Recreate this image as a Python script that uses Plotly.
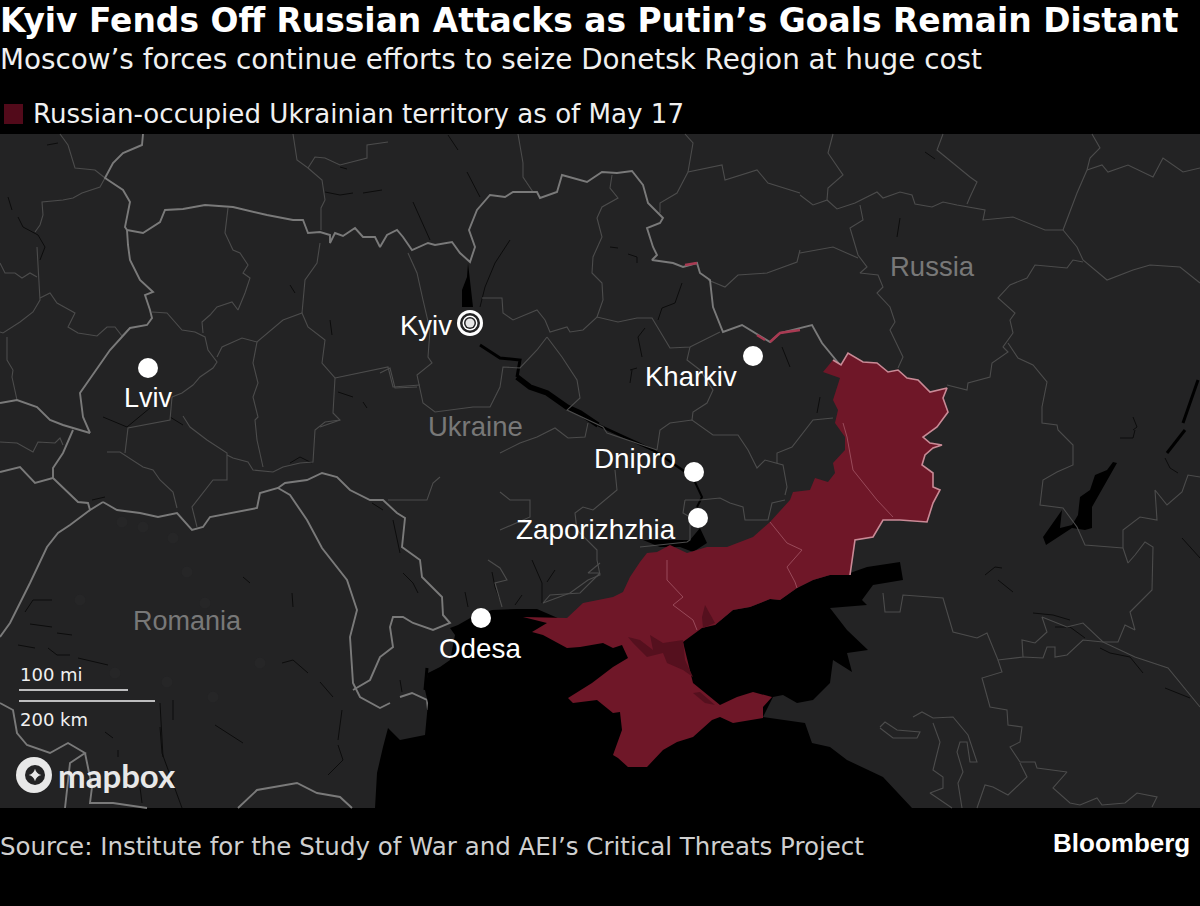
import plotly.graph_objects as go

land_area = [(0, 134), (1200, 134), (1200, 808), (0, 808)]

black_sea_azov = [
    (375, 808), (377, 773), (383, 747), (388, 728), (400, 740), (425, 735), (428, 703), (425, 690),
    (428, 673), (440, 667), (450, 660), (455, 635), (450, 628), (458, 625), (472, 617), (492, 610),
    (517, 609), (537, 609), (560, 619), (567, 618), (620, 625), (700, 625), (715, 625), (733, 610),
    (750, 607), (770, 599), (780, 600), (797, 588), (813, 580), (830, 575), (850, 573), (867, 567),
    (900, 562), (903, 580), (873, 585), (862, 600), (867, 605), (830, 608), (847, 630), (868, 650),
    (847, 653), (852, 672), (833, 660), (830, 683), (813, 700), (797, 703), (783, 695), (773, 697),
    (763, 717), (805, 723), (812, 743), (830, 747), (847, 760), (883, 777), (912, 808),
]
zaporizhzhia_reservoir = [
    (700, 528), (707, 543), (693, 552), (680, 547), (660, 547), (643, 540), (690, 540),
]
kyiv_reservoir = [(468, 263), (473, 307), (462, 307), (462, 290), (467, 277)]
don_reservoir = [
    (1113, 462), (1107, 470), (1095, 475), (1090, 490), (1080, 497), (1078, 515), (1072, 525),
    (1060, 528), (1062, 510), (1043, 537), (1046, 545), (1072, 528), (1085, 530), (1092, 528),
    (1092, 507), (1108, 478), (1117, 463),
]

occupied_area = [
    (567, 618), (583, 603), (613, 597), (623, 592), (630, 577), (640, 562), (647, 553), (657, 552),
    (670, 545), (687, 553), (707, 547), (727, 547), (753, 537), (770, 522), (790, 500), (793, 492),
    (810, 490), (815, 478), (828, 482), (835, 473), (833, 463), (845, 450), (845, 437), (835, 423),
    (838, 410), (833, 400), (840, 378), (823, 372), (833, 360), (841, 365), (848, 353), (863, 362),
    (877, 363), (888, 372), (898, 370), (907, 378), (918, 380), (930, 392), (947, 388), (943, 398),
    (948, 412), (937, 427), (923, 437), (930, 443), (942, 445), (933, 448), (925, 455), (922, 465),
    (933, 473), (933, 487), (940, 490), (933, 503), (927, 522), (900, 520), (883, 520), (873, 537),
    (855, 540), (852, 560), (850, 575), (830, 575), (813, 580), (797, 588), (780, 600), (770, 599),
    (750, 607), (733, 610), (715, 625), (702, 628), (683, 642), (693, 683), (720, 705), (737, 697),
    (753, 692), (772, 697), (763, 707), (763, 718), (733, 723), (720, 717), (712, 720), (693, 737),
    (677, 742), (663, 750), (647, 767), (628, 767), (618, 758), (613, 755), (622, 730), (620, 712),
    (613, 713), (597, 700), (573, 703), (568, 698), (592, 683), (613, 667), (628, 658), (622, 645),
    (613, 648), (603, 643), (580, 647), (567, 648), (543, 635), (532, 632), (547, 623), (523, 617),
]
occupied_edge = occupied_area[28:59]
border_north_slivers = [[(685, 265), (697, 263)], [(757, 335), (765, 340)], [(770, 342), (780, 333), (800, 330)]]
sivash_west = [
    (628, 637), (640, 640), (653, 650), (650, 635), (663, 643), (683, 640), (685, 660), (693, 677),
    (683, 670), (667, 663), (663, 653), (647, 657), (633, 643),
]
sivash_south = [(693, 693), (700, 692), (715, 705), (705, 703)]
sivash_north = [(705, 605), (715, 623), (703, 628), (702, 617)]

donetsk_luhansk_line = [(843, 423), (847, 437), (853, 470), (867, 487), (877, 500), (893, 517)]
zaporizhzhia_donetsk_line = [(770, 522), (787, 543), (802, 550), (787, 567), (795, 582), (797, 588)]
kherson_zaporizhzhia_line = [(667, 560), (667, 580), (683, 597), (673, 605), (693, 620), (697, 630)]

# national borders
poland_belarus = [(143, 134), (142, 145), (123, 153), (113, 163), (105, 178), (123, 190), (130, 202), (125, 227), (127, 230)]
ukraine_north = [
    (127, 230), (143, 233), (160, 222), (165, 210), (183, 209), (205, 205), (233, 207), (267, 215),
    (293, 220), (303, 220), (308, 233), (320, 232), (330, 235), (330, 243), (335, 233), (343, 236),
    (355, 228), (363, 237), (375, 237), (380, 247), (387, 235), (397, 230), (403, 237), (412, 250),
    (428, 243), (435, 245), (452, 242), (460, 253), (470, 262), (475, 247), (469, 230), (477, 210),
    (490, 195), (505, 197), (513, 192), (537, 192), (540, 198), (557, 192), (562, 175), (587, 182),
    (602, 172), (617, 173), (632, 171), (643, 185), (648, 203), (663, 218), (660, 223), (647, 228),
    (653, 247), (657, 255), (652, 260), (673, 263), (683, 267), (697, 263), (700, 273), (710, 280),
    (713, 307), (723, 332), (742, 325), (758, 335), (770, 342), (780, 333), (800, 328), (812, 325),
    (822, 343), (840, 365),
]
ukraine_west = [
    (127, 230), (128, 245), (130, 260), (140, 280), (153, 292), (145, 295), (150, 310), (152, 318),
    (147, 325), (130, 328), (110, 350), (80, 393), (83, 417), (90, 433),
]
slovakia_south = [(0, 403), (17, 400), (37, 407), (50, 420), (63, 425), (90, 433)]
slovakia_ukraine = [(73, 430), (63, 453), (53, 468), (53, 478), (35, 483), (20, 467), (0, 472)]
hungary_east = [(53, 478), (68, 492), (78, 502), (88, 503), (90, 510), (103, 502)]
ukraine_romania = [
    (103, 502), (117, 510), (140, 513), (158, 517), (177, 513), (192, 530), (203, 527), (210, 517),
    (257, 508), (260, 493), (278, 488), (285, 483), (307, 480), (322, 473), (337, 477), (350, 490),
    (370, 500), (383, 500), (397, 513), (405, 518), (402, 547), (420, 560), (422, 577), (442, 597),
    (443, 615), (450, 623), (433, 630), (413, 623), (403, 617), (393, 617), (390, 627), (393, 647),
    (380, 657), (370, 680), (353, 690),
]
romania_moldova = [
    (278, 488), (290, 495), (307, 520), (322, 548), (347, 580), (357, 610), (350, 637), (353, 683),
    (360, 697), (380, 708), (390, 703),
]
odesa_south = [(400, 697), (412, 693), (427, 700), (428, 710)]
romania_hungary = [
    (90, 510), (70, 525), (58, 533), (47, 547), (30, 583), (20, 603), (10, 623), (0, 637),
]
romania_serbia = [
    (0, 703), (13, 710), (17, 733), (27, 745), (50, 753), (68, 743), (85, 753), (70, 763), (65, 808),
]
romania_south_a = [(85, 753), (92, 787), (90, 803), (113, 803), (147, 808)]
romania_south_b = [(238, 808), (257, 790), (297, 783), (317, 793), (340, 797), (352, 808)]

national_borders = [
    poland_belarus, ukraine_north, ukraine_west, slovakia_south, slovakia_ukraine, hungary_east,
    ukraine_romania, romania_moldova, odesa_south, romania_hungary, romania_serbia, romania_south_a,
    romania_south_b,
]

# regional borders, west to east
regional_borders = [
    [(60, 134), (68, 145), (75, 168), (95, 170), (105, 178), (100, 187), (82, 193), (73, 198), (63, 200), (42, 202), (43, 215), (40, 225), (35, 232)],
    [(37, 247), (40, 293), (40, 300), (33, 312), (20, 322), (3, 333), (0, 332)],
    [(7, 337), (7, 360), (13, 370), (12, 377), (17, 400)],
    [(0, 263), (5, 273), (15, 273), (22, 278), (30, 273), (37, 277)],
    [(40, 298), (50, 293), (57, 303), (75, 313), (68, 327), (78, 333), (97, 336), (107, 327), (115, 327), (122, 336), (130, 328)],
    [(228, 208), (225, 233), (233, 250), (240, 253), (248, 265), (243, 273), (250, 278), (245, 293), (238, 310), (232, 302), (217, 307), (210, 315), (202, 322), (203, 333)],
    [(152, 312), (167, 313), (182, 330), (195, 332), (205, 337), (208, 350), (217, 362), (213, 368), (200, 377), (193, 385), (182, 393), (172, 397)],
    [(217, 357), (222, 347), (242, 338), (257, 342), (283, 320), (302, 313), (308, 327), (325, 340), (322, 363), (335, 378), (333, 413), (340, 420), (320, 427)],
    [(257, 342), (253, 363), (258, 383), (253, 397), (258, 417), (255, 420), (257, 440), (263, 467)],
    [(302, 313), (305, 280), (317, 263), (320, 243)],
    [(335, 378), (388, 367), (393, 387), (420, 385)],
    [(293, 134), (297, 160), (308, 168), (315, 157), (325, 158), (340, 165), (367, 158), (367, 145), (388, 142)],
    [(308, 168), (322, 180), (325, 200), (321, 208), (321, 230)],
    [(172, 397), (170, 420), (128, 428), (125, 453)],
    [(107, 452), (120, 452), (143, 467), (153, 470), (160, 480), (173, 492), (177, 508)],
    [(197, 527), (192, 507), (213, 480), (227, 480), (227, 453), (207, 440), (190, 427), (183, 416)],
    [(227, 455), (233, 458), (248, 462), (253, 470), (273, 472), (283, 467), (300, 463), (313, 462), (315, 430), (325, 422), (340, 420)],
    [(388, 500), (403, 500), (427, 500), (433, 483), (440, 477)],
    [(0, 442), (17, 443), (33, 452), (38, 442), (55, 443), (60, 438), (63, 445)],
    [(408, 253), (417, 273), (423, 300), (430, 330), (428, 357), (432, 363), (417, 375), (423, 403), (435, 412), (473, 407), (490, 407), (500, 387), (503, 367), (520, 368), (537, 350), (547, 337)],
    [(482, 298), (502, 298), (503, 313), (513, 320), (537, 310), (545, 320), (550, 332), (567, 327), (570, 332), (583, 330), (597, 317), (618, 322), (637, 318), (652, 318), (670, 348), (690, 347), (720, 332)],
    [(547, 337), (562, 357), (577, 380), (580, 398), (567, 410), (603, 427), (607, 433), (657, 450)],
    [(612, 175), (610, 188), (618, 198), (602, 207), (597, 218), (602, 237), (593, 257), (592, 273), (602, 283), (603, 300), (597, 317)],
    [(660, 213), (660, 203), (677, 193), (688, 172), (722, 165), (725, 180), (757, 170), (768, 183), (800, 193)],
    [(685, 134), (693, 143), (688, 172)],
    [(518, 134), (523, 163), (523, 177), (533, 192)],
    [(708, 280), (725, 287), (738, 275), (767, 273), (797, 262), (800, 250)],
    [(380, 373), (390, 368), (395, 388), (417, 387)],
    [(690, 347), (687, 360), (700, 370), (713, 390), (707, 403), (693, 412), (692, 420)],
    [(500, 453), (520, 443), (537, 437), (555, 428), (568, 438), (585, 437), (588, 423)],
    [(657, 450), (660, 430), (670, 423), (692, 420), (713, 435), (738, 435), (748, 450), (757, 468), (765, 460), (783, 465), (787, 487), (785, 495)],
    [(777, 463), (777, 453), (792, 447), (813, 420), (833, 418)],
    [(615, 470), (617, 490), (593, 510), (583, 507), (575, 513), (577, 530), (597, 550), (597, 560), (600, 575), (588, 580), (570, 593), (543, 603)],
    [(685, 500), (700, 500), (720, 498), (730, 503), (743, 507), (745, 520), (768, 520), (772, 503), (785, 500)],
    [(685, 500), (683, 513), (690, 517), (690, 540), (687, 542), (640, 547)],
    [(500, 492), (510, 500), (530, 500), (530, 517), (500, 530)],
    [(543, 603), (550, 595), (580, 593), (600, 573), (588, 573), (600, 563)],
    [(488, 560), (500, 568), (507, 580), (495, 583), (502, 607)],
    [(833, 134), (828, 153), (843, 175), (828, 188), (827, 200), (813, 205), (800, 195)],
    [(827, 200), (837, 209), (855, 203), (877, 192), (883, 198), (900, 192), (912, 195), (915, 204), (932, 207), (943, 202), (957, 205), (985, 210), (983, 220), (1013, 217), (1045, 230), (1063, 230), (1077, 247), (1083, 260), (1107, 280), (1133, 270), (1150, 265), (1180, 267), (1200, 283)],
    [(943, 134), (937, 150), (970, 177), (977, 182), (970, 197), (967, 204)],
    [(1092, 134), (1100, 148), (1090, 158), (1087, 170), (1077, 193), (1063, 230)],
    [(1087, 170), (1102, 165), (1108, 172), (1128, 165), (1153, 177), (1163, 158), (1183, 172), (1200, 168)],
    [(860, 205), (863, 220), (850, 228), (858, 255), (867, 267), (860, 273), (878, 275), (883, 287), (877, 293), (890, 307), (895, 322), (890, 330), (903, 357), (898, 368)],
    [(800, 253), (833, 247), (858, 258)],
    [(1083, 262), (1073, 260), (1067, 268), (1035, 265), (1027, 278), (1010, 285), (998, 298), (1015, 313), (1010, 320), (1013, 333), (1003, 347), (1008, 352), (992, 363), (990, 377), (968, 383), (967, 390), (947, 385)],
    [(1008, 343), (1018, 358), (1033, 365), (1047, 382), (1042, 407), (1042, 423), (1057, 425), (1058, 430), (1073, 445), (1073, 465), (1057, 472), (1043, 480), (1040, 505), (1063, 508), (1077, 527), (1085, 545), (1123, 548)],
    [(1123, 548), (1123, 530), (1140, 517), (1157, 520), (1155, 490), (1167, 505), (1182, 492), (1188, 475), (1200, 477)],
    [(1123, 548), (1128, 563), (1135, 555), (1145, 542), (1153, 547), (1152, 590), (1130, 612), (1135, 630), (1125, 625), (1118, 642), (1103, 642), (1083, 623), (1067, 627), (1042, 617), (1047, 632), (1035, 643), (1022, 640), (1023, 657), (998, 660), (987, 633), (977, 638), (953, 632), (943, 598), (903, 595), (900, 612), (885, 612), (883, 593)],
    [(1023, 657), (1043, 658), (1047, 647), (1055, 647), (1055, 657), (1067, 655), (1083, 640), (1103, 642), (1135, 657), (1168, 668), (1200, 707)],
    [(998, 660), (1002, 672), (982, 678), (990, 707), (1007, 710), (1008, 725), (1022, 727), (1020, 742), (1010, 747), (1020, 762), (1035, 762), (1037, 768), (1067, 772), (1053, 788), (1070, 803), (1080, 805), (1097, 798), (1102, 805), (1125, 803), (1137, 793), (1157, 797), (1152, 807)],
    [(1020, 763), (1027, 777), (1008, 795), (993, 787), (985, 785), (977, 808)],
    [(880, 727), (885, 722), (897, 730), (920, 732), (917, 738), (893, 738), (880, 728)],
    [(913, 717), (922, 712), (933, 718), (953, 717), (968, 735), (977, 762), (970, 762), (967, 742), (960, 742), (957, 752), (963, 772), (958, 783), (962, 808)],
    [(933, 723), (940, 742), (933, 770), (943, 777), (943, 788), (930, 793), (952, 808)],
]

# rivers and small lakes
dnipro_kyiv = [(480, 345), (500, 358), (520, 360), (517, 377)]
dnipro_kremenchuk = [(517, 377), (530, 387), (547, 393), (567, 407), (580, 413), (598, 425)]
dnipro_lower = [(598, 425), (627, 438), (653, 450), (687, 473)]
dnipro_city = [(694, 480), (702, 497), (697, 507)]
thin_rivers = [
    [(448, 135), (458, 150)], [(467, 172), (480, 197)], [(413, 202), (430, 240)],
    [(510, 240), (495, 263), (485, 287), (480, 307)], [(610, 247), (618, 248)],
    [(628, 254), (637, 257), (637, 263)], [(682, 283), (675, 303), (662, 308), (658, 320)],
    [(645, 328), (638, 337), (642, 357)], [(630, 370), (637, 368)], [(632, 370), (630, 383)],
    [(782, 347), (790, 367)], [(820, 397), (817, 413)], [(900, 218), (897, 237)],
    [(925, 152), (935, 159)], [(1133, 417), (1137, 427), (1133, 430)],
    [(47, 145), (58, 143)], [(8, 197), (12, 210)], [(18, 217), (23, 227), (38, 235), (45, 247), (40, 260)],
    [(325, 192), (340, 195), (353, 193)], [(363, 193), (382, 190)], [(340, 167), (347, 169)],
    [(290, 285), (295, 293)], [(330, 320), (332, 335)], [(103, 417), (127, 427), (150, 408)],
    [(170, 417), (183, 425)], [(338, 392), (353, 397)], [(363, 402), (367, 408)],
    [(25, 612), (33, 600), (52, 600)], [(30, 624), (52, 627)], [(57, 633), (72, 635)],
    [(18, 645), (35, 648)], [(48, 648), (57, 655), (70, 655)], [(78, 658), (108, 665)],
    [(243, 577), (250, 583)], [(292, 593), (293, 607)], [(282, 663), (293, 660), (308, 673)],
    [(160, 703), (163, 757)], [(173, 700), (173, 720)], [(160, 727), (162, 753), (182, 808)],
    [(140, 787), (142, 803)], [(118, 750), (118, 757)], [(105, 732), (113, 738)],
    [(215, 725), (243, 743)], [(320, 682), (333, 697)], [(342, 710), (338, 740)],
    [(338, 745), (343, 760), (328, 775)], [(92, 500), (105, 497)],
    [(372, 503), (383, 510)], [(393, 520), (400, 553)], [(403, 573), (413, 583), (418, 593)],
    [(290, 463), (300, 457), (312, 463)], [(400, 680), (402, 692)], [(465, 592), (468, 607)],
    [(492, 572), (495, 587), (500, 600)], [(532, 560), (542, 583), (542, 603)], [(555, 570), (547, 582)],
    [(515, 605), (522, 595)], [(1120, 438), (1133, 438), (1135, 430)],
    [(1165, 458), (1170, 468), (1178, 473)], [(1182, 538), (1200, 558)],
    [(985, 575), (995, 567), (1002, 568)], [(998, 580), (1013, 592)],
    [(1033, 613), (1053, 615), (1070, 620)], [(1055, 627), (1070, 627), (1085, 638)],
    [(1100, 648), (1110, 653), (1130, 657), (1143, 673)], [(1165, 688), (1190, 698)],
]
thick_rivers = [[(1198, 380), (1183, 423)], [(1185, 430), (1167, 453)], [(427, 668), (425, 690)]]

city_glow_x = [122, 143, 173, 187, 205, 80, 260, 115, 167, 213]
city_glow_y = [522, 527, 538, 572, 603, 600, 663, 673, 682, 697]

legend_swatch = [(4, 104), (23, 104), (23, 124), (4, 124)]
scale_mi_bar = [(19, 690), (128, 690)]
scale_km_bar = [(19, 701), (155, 701)]
logo_pos = (34, 775)
kyiv_pos = (470, 323)
city_x = [148, 753, 694, 698, 481]
city_y = [368, 356, 472, 518, 618]

BORDER_NATIONAL = "#7a7a7a"
BORDER_REGIONAL = "#4c4c4c"
LAND = "#232324"
RED = "#6f1728"


def xy(paths):
    # one trace per style, gaps between the paths
    xs, ys = [], []
    for p in paths:
        xs += [a for a, b in p] + [None]
        ys += [b for a, b in p] + [None]
    return xs, ys


def area(fig, pts, color):
    fig.add_trace(go.Scatter(x=[p[0] for p in pts], y=[p[1] for p in pts], mode="lines", fill="toself",
                             fillcolor=color, line=dict(width=0), hoverinfo="skip"))


def lines(fig, paths, color, width):
    xs, ys = xy(paths)
    fig.add_trace(go.Scatter(x=xs, y=ys, mode="lines", line=dict(color=color, width=width), hoverinfo="skip"))


def text(fig, s, x, y, size, color, family, anchor="left", bold=False):
    fig.add_annotation(x=x, y=y, xref="x", yref="y", text=f"<b>{s}</b>" if bold else s, showarrow=False,
                       xanchor=anchor, yanchor="middle", font=dict(size=size, color=color, family=family),
                       borderpad=0, borderwidth=0)


fig = go.Figure()

area(fig, land_area, LAND)
fig.add_trace(go.Scatter(x=city_glow_x, y=city_glow_y, mode="markers",
                         marker=dict(size=11, color="#262627"), hoverinfo="skip"))
lines(fig, thin_rivers, "#0c0c0c", 1)
lines(fig, thick_rivers, "#000000", 3)
area(fig, zaporizhzhia_reservoir, "#000000")
area(fig, kyiv_reservoir, "#000000")
area(fig, don_reservoir, "#000000")
lines(fig, [dnipro_kyiv], "#000000", 3)
lines(fig, [dnipro_kremenchuk], "#000000", 5.5)
lines(fig, [dnipro_lower], "#000000", 2.5)
lines(fig, [dnipro_city], "#000000", 2)
lines(fig, regional_borders, BORDER_REGIONAL, 1.1)
lines(fig, national_borders, BORDER_NATIONAL, 1.9)
area(fig, black_sea_azov, "#000000")

area(fig, occupied_area, RED)
area(fig, sivash_west, "#55101e")
area(fig, sivash_south, "#55101e")
area(fig, sivash_north, "#55101e")
lines(fig, [donetsk_luhansk_line, zaporizhzhia_donetsk_line, kherson_zaporizhzhia_line], "#9a4a5a", 1)
lines(fig, [occupied_edge], "#c98a96", 1.6)
lines(fig, border_north_slivers, "#a83a52", 2.5)

area(fig, legend_swatch, "#520a1a")
lines(fig, [scale_mi_bar, scale_km_bar], "#f2f2f2", 1.5)

fig.add_trace(go.Scatter(x=city_x, y=city_y, mode="markers", marker=dict(size=20, color="#ffffff"), hoverinfo="skip"))
for size, color in [(26, "#ffffff"), (20, "#232324"), (15, "#ffffff"), (12, "#232324"), (9, "#e6e6e6")]:
    fig.add_trace(go.Scatter(x=[kyiv_pos[0]], y=[kyiv_pos[1]], mode="markers",
                             marker=dict(size=size, color=color), hoverinfo="skip"))
for size, color, symbol in [(36, "#e8e8e8", "circle"), (20, "#232324", "circle"), (9, "#e8e8e8", "star-diamond")]:
    fig.add_trace(go.Scatter(x=[logo_pos[0] + (0 if size == 36 else 1)], y=[logo_pos[1]], mode="markers",
                             marker=dict(size=size, color=color, symbol=symbol), hoverinfo="skip"))

SANS = "DejaVu Sans"
HELV = "Liberation Sans"
text(fig, "Kyiv Fends Off Russian Attacks as Putin’s Goals Remain Distant", 0, 20, 32.9, "#ffffff", SANS, bold=True)
text(fig, "Moscow’s forces continue efforts to seize Donetsk Region at huge cost", 0, 59, 27.8, "#f0f0f0", SANS)
text(fig, "Russian-occupied Ukrainian territory as of May 17", 33, 114, 26.1, "#f0f0f0", SANS)
text(fig, "Source: Institute for the Study of War and AEI’s Critical Threats Project", 0, 846, 24.5, "#cfcfcf", SANS)
text(fig, "Bloomberg", 1190, 843, 26, "#ffffff", HELV, anchor="right", bold=True)

text(fig, "100 mi", 20, 674, 18, "#f0f0f0", SANS)
text(fig, "200 km", 20, 719, 18, "#f0f0f0", SANS)
text(fig, "mapbox", 58, 775, 33, "#e8e8e8", "Lato", bold=True)

text(fig, "Kyiv", 400, 325, 27.5, "#ffffff", HELV)
text(fig, "Lviv", 148, 398, 27, "#ffffff", HELV, anchor="center")
text(fig, "Kharkiv", 645, 376, 27.5, "#ffffff", HELV)
text(fig, "Dnipro", 594, 458, 27.8, "#ffffff", HELV)
text(fig, "Zaporizhzhia", 516, 529, 27.8, "#ffffff", HELV)
text(fig, "Odesa", 439, 648, 27.8, "#ffffff", HELV)
text(fig, "Ukraine", 428, 426, 27.5, "#787878", HELV)
text(fig, "Russia", 890, 266, 27.5, "#787878", HELV)
text(fig, "Romania", 133, 621, 27, "#787878", HELV)

fig.update_layout(
    width=1200, height=906, margin=dict(l=0, r=0, t=0, b=0), showlegend=False,
    paper_bgcolor="#000000", plot_bgcolor="#000000",
    xaxis=dict(range=[0, 1200], visible=False, fixedrange=True),
    yaxis=dict(range=[906, 0], visible=False, fixedrange=True),
)

fig.write_html("out.html", post_script="document.body.style.margin='0';document.body.style.background='#000';",
               config=dict(displayModeBar=False))
